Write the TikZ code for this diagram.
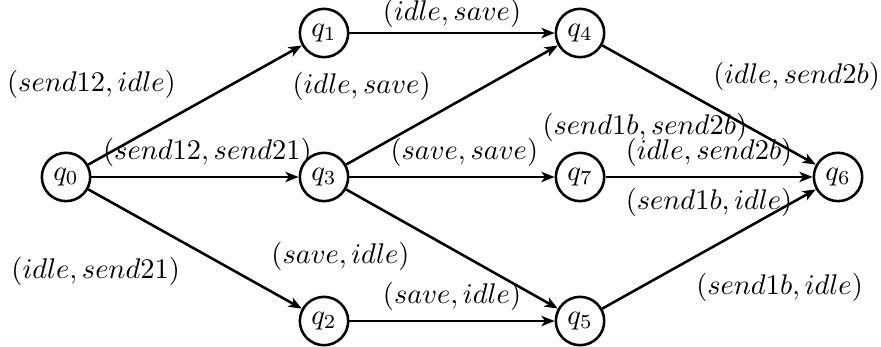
\documentclass[tikz,border=0pt]{standalone}
\usetikzlibrary{arrows.meta}
\begin{document}
\begin{tikzpicture}[line width=0.9pt,
  state/.style={draw,circle,minimum size=17pt,inner sep=0pt},
  trans/.style={-{Stealth[length=4.6pt,width=3.6pt,inset=1.2pt]}}]
  \useasboundingbox (0,0) rectangle (10.887,4.288);
  \node[state] (q0) at (0.816,2.101) {$q_0$};
  \node[state] (q1) at (4.004,3.880) {$q_1$};
  \node[state] (q3) at (4.004,2.101) {$q_3$};
  \node[state] (q2) at (4.004,0.321) {$q_2$};
  \node[state] (q4) at (7.168,3.880) {$q_4$};
  \node[state] (q7) at (7.168,2.101) {$q_7$};
  \node[state] (q5) at (7.168,0.321) {$q_5$};
  \node[state] (q6) at (10.356,2.101) {$q_6$};
  \draw[trans] (q0) -- (q1) node[pos=0.46,above left]{$(send12,idle)$};
  \draw[trans] (q0) -- (q3) node[pos=0.56,above]{$(send12,send21)$};
  \draw[trans] (q0) -- (q2) node[pos=0.48,below left]{$(idle,send21)$};
  \draw[trans] (q1) -- (q4) node[midway,above=-1.8pt]{$(idle,save)$};
  \draw[trans] (q3) -- (q4) node[pos=0.45,above left]{$(idle,save)$};
  \draw[trans] (q3) -- (q7) node[pos=0.56,above]{$(save,save)$};
  \draw[trans] (q3) -- (q5) node[pos=0.35,below left]{$(save,idle)$};
  \draw[trans] (q2) -- (q5) node[midway,above]{$(save,idle)$};
  \draw[trans] (q4) -- (q6) node[pos=0.47,above right]{$(idle,send2b)$};
  \draw[trans] (q7) -- (q6) node[pos=0.19,above=8.7pt]{$(send1b,send2b)$}
    node[midway,above]{$(idle,send2b)$}
    node[midway,below]{$(send1b,idle)$};
  \draw[trans] (q5) -- (q6) node[pos=0.39,below right]{$(send1b,idle)$};
\end{tikzpicture}
\end{document}
